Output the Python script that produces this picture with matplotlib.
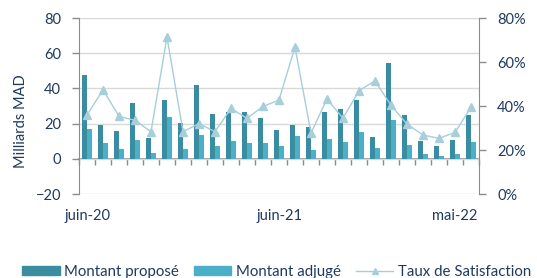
# bars (montant proposé / adjugé) + taux de satisfaction on twin axis

import matplotlib
matplotlib.use('Agg')
import matplotlib.pyplot as plt
import numpy as np
from matplotlib.lines import Line2D
from matplotlib.patches import Patch

# 25 months, juin-20 .. juin-22
months = ["juin-20", "juil.-20", "août-20", "sept.-20", "oct.-20", "nov.-20", "déc.-20",
          "janv.-21", "févr.-21", "mars-21", "avr.-21", "mai-21", "juin-21", "juil.-21",
          "août-21", "sept.-21", "oct.-21", "nov.-21", "déc.-21", "janv.-22", "févr.-22",
          "mars-22", "avr.-22", "mai-22", "juin-22"]
shown_labels = {0: "juin-20", 12: "juin-21", 23: "mai-22"}

montant_propose = [47.5, 19.4, 15.8, 31.9, 12.0, 33.6, 20.6, 41.9, 25.7, 26.4, 26.4, 23.2, 16.6,
                   19.2, 18.3, 26.4, 28.5, 33.6, 12.6, 54.5, 25.1, 10.2, 7.0, 10.4, 25.1]
montant_adjuge = [17.0, 9.0, 5.5, 10.6, 3.2, 23.8, 5.8, 13.6, 7.4, 10.2, 9.1, 9.1, 7.2,
                  12.8, 4.9, 11.3, 9.8, 15.5, 6.4, 22.1, 7.9, 2.6, 1.7, 3.0, 9.8]
taux_satisfaction = [35.8, 47.4, 35.3, 33.5, 28.3, 71.4, 28.3, 32.0, 28.3, 38.9, 34.4, 39.8, 42.7,
                     66.8, 27.7, 43.2, 34.4, 47.0, 51.4, 40.3, 31.8, 26.8, 25.3, 28.0, 39.4]

DARK = "#3A8CA1"
LIGHT = "#4BAFC8"
LINE = "#A6CEDB"
TEXT = "#1F3A5F"
AXIS = "#8C8C8C"
GRID = "#D9D9D9"

plt.rcParams['font.family'] = ['Lato', 'DejaVu Sans']
plt.rcParams['font.size'] = 10.5

fig = plt.figure(figsize=(5.37, 2.78), dpi=100)
ax = fig.add_axes([79/537, 1 - 194/278, 400/537, 176/278])

x = np.arange(len(months))
w = 0.29
ax.bar(x - w/2, montant_propose, width=w, color=DARK, zorder=3)
ax.bar(x + w/2, montant_adjuge, width=w, color=LIGHT, zorder=3)

ax.set_xlim(-0.5, len(months) - 0.5)
ax.set_ylim(-20, 80)
ax.set_yticks(range(-20, 81, 20))
ax.yaxis.grid(True, color=GRID, linewidth=1, zorder=0)
ax.tick_params(axis='y', colors=AXIS, labelcolor=TEXT, length=5, width=1, pad=8)
ax.set_xticks(list(shown_labels.keys()))
ax.set_xticklabels(list(shown_labels.values()))
ax.tick_params(axis='x', length=0, labelcolor=TEXT, pad=11)
for s in ["top", "bottom", "right"]:
    ax.spines[s].set_visible(False)
ax.spines["left"].set_color(AXIS)

# category axis crossing at 0
sec = ax.secondary_xaxis(0.2)
sec.set_xticks(np.arange(-0.5, len(months), 1.0))
sec.set_xticklabels([])
sec.tick_params(length=4, color=AXIS, width=1)
sec.spines["bottom"].set_color(AXIS)
sec.spines["bottom"].set_linewidth(1.2)

ax2 = ax.twinx()
ax2.plot(x, taux_satisfaction, color=LINE, linewidth=1, marker="^", markersize=6,
         markerfacecolor=LINE, markeredgecolor=LINE, zorder=4)
ax2.set_ylim(0, 80)
ax2.set_yticks(range(0, 81, 20))
ax2.set_yticklabels([f"{v}%" for v in range(0, 81, 20)])
ax2.tick_params(axis='y', colors=AXIS, labelcolor=TEXT, length=5, width=1, pad=8)
for s in ["top", "bottom", "left"]:
    ax2.spines[s].set_visible(False)
ax2.spines["right"].set_color(AXIS)

fig.text(21/537, 1 - 121/278, "Milliards MAD", rotation=90, ha="center", va="center", color=TEXT)

handles = [Patch(color=DARK), Patch(color=LIGHT),
           Line2D([0], [0], color=LINE, linewidth=1, marker="^", markersize=5)]
fig.legend(handles, ["Montant proposé", "Montant adjugé", "Taux de Satisfaction"],
           loc="center left", bbox_to_anchor=(22/537, 1 - 272/278), ncol=3, frameon=False,
           labelcolor=TEXT, fontsize=10.8, handlelength=2.5, handleheight=0.55,
           handletextpad=0.3, columnspacing=1.0, borderaxespad=0, borderpad=0)

fig.savefig("out.png", dpi=100)
